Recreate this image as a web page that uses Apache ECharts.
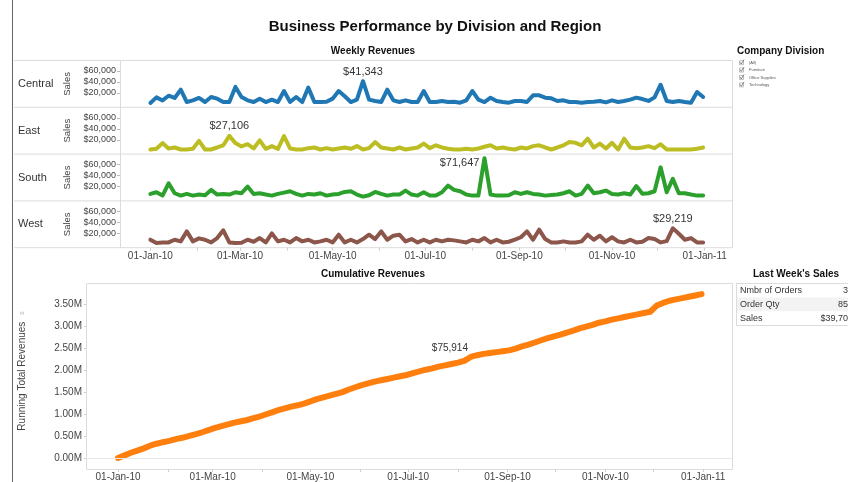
<!DOCTYPE html>
<html>
<head>
<meta charset="utf-8">
<title>Business Performance by Division and Region</title>
<script src="https://cdn.jsdelivr.net/npm/echarts@6/dist/echarts.min.js"></script>
<style>
  html, body { margin: 0; padding: 0; background: #fff; }
  #chart { width: 848px; height: 482px; }
</style>
</head>
<body>
<div id="chart"></div>
<script>
// regions (one row each in the weekly panel)
const regions = ['Central', 'East', 'South', 'West'];
const regionColors = ['#1f77b4', '#bcbd22', '#2ca02c', '#8c564b'];

// one point every 4 days, starting 01-Jan-10
const firstDay = '2010-01-01';
const stepDays = 4;

const centralSales = [
  2000, 12000, 6500, 15000, 11000, 26000, 3600, 6500, 11000, 3600,
  12700, 9700, 3600, 3600, 31000, 12700, 6600, 3600, 9700, 3600,
  7900, 3600, 23600, 3600, 12700, 3600, 29700, 3600, 3600, 4200,
  9700, 23600, 14000, 3600, 7900, 41343, 7900, 5500, 3600, 26000,
  6600, 3600, 6600, 3600, 3600, 23600, 3600, 3600, 5500, 3600,
  4200, 2400, 6600, 23600, 7900, 3600, 11500, 5500, 3600, 2400,
  5500, 5500, 3600, 15800, 15800, 11500, 10300, 5500, 6600, 3600,
  3600, 2400, 3600, 4200, 5500, 3000, 6600, 3600, 5500, 7900,
  11500, 9000, 5500, 12000, 35000, 5500, 3600, 5500, 3600, 2400,
  21800, 12700
];
const eastSales = [
  2400, 3600, 14000, 4200, 6000, 2400, 2400, 3600, 18000, 2400,
  2400, 6000, 10000, 27106, 14000, 8000, 12000, 4200, 19000, 3600,
  8500, 3600, 26700, 4200, 2400, 2400, 4800, 6000, 2400, 4800,
  2400, 4200, 6000, 3600, 8500, 2400, 4800, 15800, 6000, 4200,
  2400, 6000, 2400, 4200, 6000, 13000, 4800, 10000, 6000, 3600,
  2400, 2400, 3600, 2400, 4200, 7300, 10000, 4200, 6000, 3600,
  2400, 6000, 4200, 8500, 10000, 6000, 2400, 6000, 10000, 16000,
  14500, 10000, 22000, 6000, 13000, 4200, 14500, 2400, 22000, 6000,
  4800, 6000, 8500, 4800, 12000, 2400, 2400, 2400, 2400, 2400,
  3600, 6000
];
const southSales = [
  6700, 9700, 3600, 26000, 7900, 3600, 6700, 3600, 5500, 4200,
  14000, 5500, 6700, 5500, 9700, 7900, 20000, 6700, 7900, 5500,
  3600, 6700, 9000, 11500, 6700, 3600, 6700, 5500, 7900, 3600,
  5500, 6700, 10300, 11500, 5500, 1800, 4200, 10300, 6700, 3600,
  5500, 5500, 12700, 5500, 3600, 9700, 3600, 3600, 9700, 21800,
  14000, 11500, 5500, 3600, 3600, 71647, 5500, 3600, 3600, 4200,
  9700, 6700, 9700, 6700, 5500, 3600, 4800, 5500, 7900, 11500,
  3600, 6700, 21800, 7900, 9700, 12700, 6700, 5500, 7900, 5500,
  21000, 7000, 7900, 11500, 55000, 9700, 34000, 7900, 7900, 5500,
  3600, 3600
];
const westSales = [
  8500, 2400, 3600, 3600, 8500, 5500, 23600, 5500, 11000, 8500,
  3600, 11500, 25500, 3600, 2400, 3000, 8500, 4800, 11500, 3600,
  20000, 5500, 8500, 3600, 11500, 5500, 8500, 3600, 5500, 8500,
  3600, 17600, 3600, 8500, 3600, 9700, 17600, 9700, 23600, 8500,
  15800, 17600, 5500, 9700, 3600, 8500, 3600, 8500, 5500, 8500,
  7300, 5500, 3600, 8500, 5500, 11500, 3600, 8500, 3600, 4800,
  8500, 13000, 23600, 8500, 26700, 9700, 3600, 3600, 5500, 3600,
  3600, 5500, 17600, 8500, 15800, 5500, 13000, 5500, 3600, 8500,
  3600, 4800, 11500, 9700, 3600, 6000, 29219, 19400, 8500, 11500,
  3600, 3600
];
const regionSales = [centralSales, eastSales, southSales, westSales];
// index of the labelled peak in each row
const peakIndex = [35, 13, 55, 86];

// running total, millions
const cumulativeRevenue = [
  0.00, 0.06, 0.12, 0.17, 0.22, 0.28, 0.325, 0.36, 0.39, 0.43,
  0.46, 0.50, 0.54, 0.58, 0.63, 0.68, 0.72, 0.76, 0.80, 0.83,
  0.86, 0.90, 0.94, 0.99, 1.04, 1.09, 1.13, 1.17, 1.20, 1.24,
  1.29, 1.34, 1.38, 1.42, 1.46, 1.50, 1.56, 1.61, 1.66, 1.70,
  1.74, 1.77, 1.80, 1.83, 1.86, 1.89, 1.93, 1.97, 2.01, 2.04,
  2.08, 2.11, 2.14, 2.17, 2.21, 2.30, 2.34, 2.37, 2.39, 2.41,
  2.43, 2.45, 2.49, 2.54, 2.58, 2.63, 2.68, 2.73, 2.77, 2.81,
  2.855, 2.90, 2.95, 2.99, 3.03, 3.08, 3.11, 3.15, 3.18, 3.21,
  3.24, 3.27, 3.30, 3.33, 3.47, 3.53, 3.58, 3.61, 3.64, 3.67,
  3.70, 3.73
];
const cumulativeNote = { index: 53, text: '$75,914' };

// tick labels
const dateLabels = ['2010-01-01', '2010-03-01', '2010-05-01', '2010-07-01', '2010-09-01', '2010-11-01', '2011-01-01'];
const monthTicks = ['2010-01-01', '2010-02-01', '2010-03-01', '2010-04-01', '2010-05-01', '2010-06-01', '2010-07-01',
  '2010-08-01', '2010-09-01', '2010-10-01', '2010-11-01', '2010-12-01', '2011-01-01'];
const salesTicks = [20000, 40000, 60000];
const runningTicks = [0, 0.5, 1, 1.5, 2, 2.5, 3, 3.5];
const axisStart = '2009-12-12';
const axisEnd = '2011-01-19';

// side panels
const divisions = ['(All)', 'Furniture', 'Office Supplies', 'Technology'];
const lastWeekNames = ['Nmbr of Orders', 'Order Qty', 'Sales'];
const lastWeekValues = ['3', '85', '$39,70'];

const FONT = '"Liberation Sans", Arial, sans-serif';
const MONTHS = ['Jan', 'Feb', 'Mar', 'Apr', 'May', 'Jun', 'Jul', 'Aug', 'Sep', 'Oct', 'Nov', 'Dec'];

function parseDay(s) {
  const [y, m, d] = s.split('-').map(Number);
  return new Date(y, m - 1, d).getTime();
}
function dayAt(i) {
  const [y, m, d] = firstDay.split('-').map(Number);
  return new Date(y, m - 1, d + i * stepDays).getTime();
}
function fmtDate(v) {
  const d = new Date(v);
  return String(d.getDate()).padStart(2, '0') + '-' + MONTHS[d.getMonth()] + '-' + String(d.getFullYear()).slice(2);
}
function txt(x, y, text, size, extra) {
  const style = Object.assign({
    text, fontSize: size, fontFamily: FONT, fill: '#333',
    align: 'left', verticalAlign: 'middle'
  }, extra || {});
  style.textAlign = style.align;
  style.textVerticalAlign = style.verticalAlign;
  return { type: 'text', x, y, silent: true, style };
}
function hline(x1, x2, y, color) {
  return { type: 'line', silent: true, shape: { x1, y1: y, x2, y2: y }, style: { stroke: color || '#dcdcdc', lineWidth: 1 } };
}
function vline(x, y1, y2, color) {
  return { type: 'line', silent: true, shape: { x1: x, y1, x2: x, y2 }, style: { stroke: color || '#dcdcdc', lineWidth: 1 } };
}

const chart = echarts.init(document.getElementById('chart'));

// row layout of the weekly panel
const rowTop = 60.5, rowH = 46.8, plotLeft = 120, plotRight = 732;

const grids = regions.map((r, i) => ({ left: plotLeft, width: plotRight - plotLeft, top: rowTop + i * rowH, height: rowH }));
grids.push({ left: 86, width: 646, top: 283.3, height: 186 });

// dates as timestamps on a plain value axis, labelled by hand
const dateAxis = (gridIndex, showLabels, margin) => ({
  type: 'value', gridIndex,
  min: parseDay(axisStart), max: parseDay(axisEnd),
  axisLine: { show: false, onZero: false },
  splitLine: { show: false },
  axisTick: { show: showLabels, customValues: monthTicks.map(parseDay), length: 3, lineStyle: { color: '#cfcfcf' } },
  axisLabel: {
    show: showLabels, customValues: dateLabels.map(parseDay), formatter: fmtDate,
    fontSize: 10, color: '#444', fontFamily: FONT, margin
  }
});

const xAxes = regions.map((r, i) => dateAxis(i, i === regions.length - 1, 4));
xAxes.push(dateAxis(4, true, 3));

const yAxes = regions.map((r, i) => ({
  type: 'value', gridIndex: i, min: -6000, max: 79000,
  name: 'Sales', nameLocation: 'middle', nameGap: 41, nameRotate: 90,
  nameTextStyle: { fontSize: 9.5, color: '#444', fontFamily: FONT },
  axisLine: { show: false },
  splitLine: { show: false },
  axisTick: { show: true, customValues: salesTicks, length: 3, lineStyle: { color: '#bbb' } },
  axisLabel: {
    customValues: salesTicks, formatter: v => '$' + v.toLocaleString('en-US'),
    fontSize: 9, color: '#444', fontFamily: FONT, margin: 4
  }
}));
yAxes.push({
  type: 'value', gridIndex: 4, min: -0.25, max: 3.977,
  name: 'Running Total Revenues', nameLocation: 'middle', nameGap: 59,
  nameTextStyle: { fontSize: 10, color: '#444', fontFamily: FONT },
  axisLine: { show: false },
  splitLine: { show: false },
  axisTick: { show: true, customValues: runningTicks, length: 2, lineStyle: { color: '#ccc' } },
  axisLabel: {
    customValues: runningTicks, formatter: v => v.toFixed(2) + 'M',
    fontSize: 10, color: '#444', fontFamily: FONT, margin: 4
  }
});

const series = regions.map((r, i) => ({
  name: r, type: 'line', xAxisIndex: i, yAxisIndex: i,
  symbol: 'circle', symbolSize: 0, showSymbol: true, clip: false,
  silent: true, animation: false,
  lineStyle: { width: 4, color: regionColors[i], cap: 'round', join: 'round' },
  itemStyle: { color: regionColors[i] },
  data: regionSales[i].map((v, k) => {
    if (k !== peakIndex[i]) return [dayAt(k), v];
    const south = r === 'South';
    return {
      value: [dayAt(k), v],
      label: {
        show: true, position: south ? 'left' : 'top', distance: south ? 5 : 4,
        offset: south ? [0, 5] : [0, 0],
        formatter: p => '$' + p.value[1].toLocaleString('en-US'),
        fontSize: 11, color: '#333', fontFamily: FONT
      }
    };
  })
}));
series.push({
  name: 'Running Total', type: 'line', xAxisIndex: 4, yAxisIndex: 4,
  symbol: 'circle', symbolSize: 0, showSymbol: true, clip: false,
  silent: true, animation: false,
  lineStyle: { width: 6, color: '#ff7f0e', cap: 'round', join: 'round' },
  itemStyle: { color: '#ff7f0e' },
  markLine: {
    silent: true, symbol: 'none', animation: false,
    label: { show: false },
    lineStyle: { color: '#e6e6e6', width: 1, type: 'solid' },
    data: [{ yAxis: 0 }]
  },
  data: cumulativeRevenue.map((v, k) => k !== cumulativeNote.index ? [dayAt(k), v] : {
    value: [dayAt(k), v],
    label: {
      show: true, position: 'top', distance: 9, offset: [-8, 0],
      formatter: cumulativeNote.text, fontSize: 10, color: '#333', fontFamily: FONT
    }
  })
});

// frames, headings, row names, filter list, table
const graphics = [];
graphics.push(vline(12.5, 0, 482, '#666'));
for (let i = 0; i <= regions.length; i++) graphics.push(hline(14, plotRight, rowTop + i * rowH));
graphics.push(vline(plotLeft + 0.5, rowTop, rowTop + 4 * rowH));
graphics.push(vline(plotRight + 0.5, rowTop, rowTop + 4 * rowH));
graphics.push({ type: 'rect', silent: true, shape: { x: 86.5, y: 283.5, width: 646, height: 186 }, style: { fill: 'none', stroke: '#dcdcdc', lineWidth: 1 } });

graphics.push(txt(435, 27, 'Business Performance by Division and Region', 15, { fontWeight: 'bold', fill: '#111', align: 'center' }));
graphics.push(txt(373, 51.5, 'Weekly Revenues', 10, { fontWeight: 'bold', fill: '#111', align: 'center' }));
graphics.push(txt(373, 274.5, 'Cumulative Revenues', 10, { fontWeight: 'bold', fill: '#111', align: 'center' }));
regions.forEach((r, i) => graphics.push(txt(18, rowTop + (i + 0.5) * rowH, r, 11, { fill: '#333' })));
graphics.push(Object.assign(txt(22, 313, '≡', 6, { fill: '#999', align: 'center' }), { rotation: Math.PI / 2 }));

// Company Division filter
graphics.push(txt(737, 51, 'Company Division', 10, { fontWeight: 'bold', fill: '#111' }));
divisions.forEach((d, i) => {
  const y = 62.7 + i * 7.4;
  graphics.push({ type: 'rect', silent: true, shape: { x: 739.5, y: y - 2, width: 4, height: 4 }, style: { fill: '#fff', stroke: '#999', lineWidth: 0.6 } });
  graphics.push({ type: 'polyline', silent: true, shape: { points: [[740, y - 0.5], [741.3, y + 1.3], [744, y - 3]] }, style: { fill: 'none', stroke: '#555', lineWidth: 0.7 } });
  graphics.push(txt(749, y, d, 4, { fill: '#555' }));
});

// Last Week's Sales table
graphics.push(txt(796, 274.5, "Last Week's Sales", 10, { fontWeight: 'bold', fill: '#111', align: 'center' }));
graphics.push({ type: 'rect', silent: true, shape: { x: 736, y: 297.5, width: 112, height: 13.8 }, style: { fill: '#f3f3f3' } });
graphics.push(hline(736, 848, 283.5));
graphics.push(hline(736, 848, 325.5));
graphics.push(vline(736.5, 283.5, 325.5));
lastWeekNames.forEach((n, i) => {
  const y = 290.7 + i * 13.8;
  graphics.push(txt(740, y, n, 9, { fill: '#333' }));
  graphics.push(txt(848, y, lastWeekValues[i], 9, { fill: '#333', align: 'right' }));
});

chart.setOption({
  animation: false,
  textStyle: { fontFamily: FONT },
  grid: grids,
  xAxis: xAxes,
  yAxis: yAxes,
  series: series,
  graphic: { elements: graphics }
});
</script>
</body>
</html>
